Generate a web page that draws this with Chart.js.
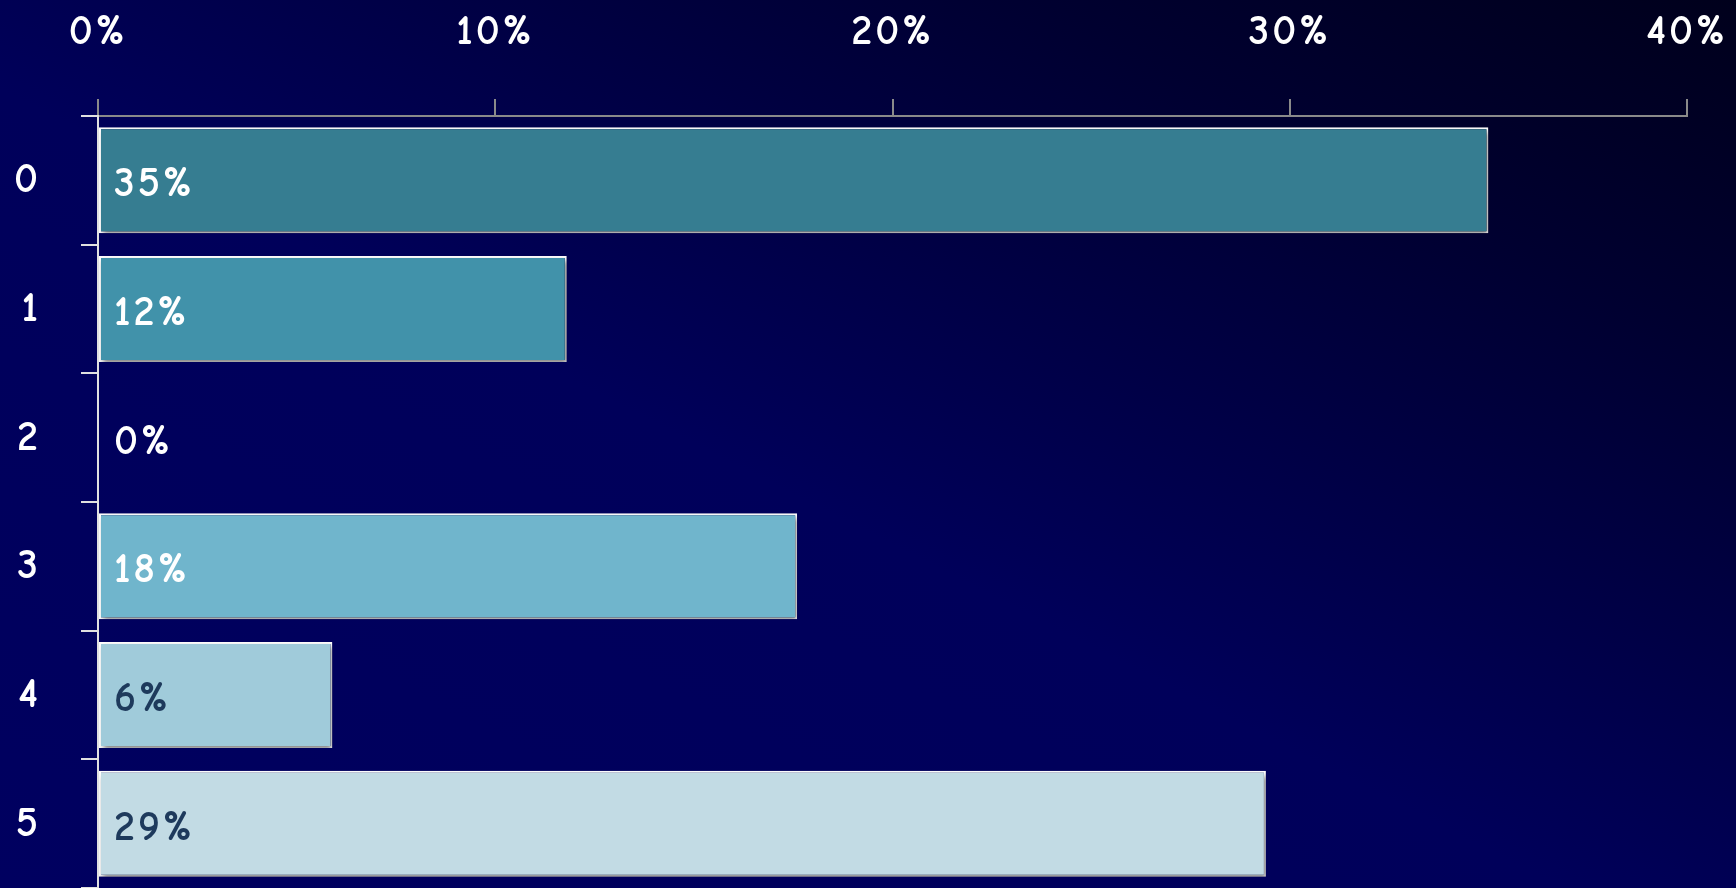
<!DOCTYPE html>
<html>
<head>
<meta charset="utf-8">
<script src="https://cdn.jsdelivr.net/npm/chart.js@4.4.1/dist/chart.umd.min.js"></script>
<style>
    html, body {
        margin: 0;
        padding: 0;
        width: 1736px;
        height: 888px;
        overflow: hidden;
        background: linear-gradient(to top right, #000060 0%, #00005a 45%, #000030 80%, #00001c 100%);
    }
    canvas {
        display: block;
    }
</style>
</head>
<body>
<canvas id="kategoriaChart" width="1736" height="888"></canvas>
<script>
var kategoriak = ['0', '1', '2', '3', '4', '5'];
var ertekek = [35.0, 11.8, 0, 17.6, 5.9, 29.4];
var cimkek = ['35%', '12%', '0%', '18%', '6%', '29%'];
var oszlopSzinek = ['#367d91', '#4192aa', '#367d91', '#70b5cc', '#a0cbda', '#c2dbe4'];
var cimkeSzinek = ['#ffffff', '#ffffff', '#ffffff', '#ffffff', '#1e3a5c', '#1e3a5c'];
var tengelyMax = 40;
var tengelyLepes = 10;

var betu = "'Comic Sans MS', 'Comic Neue', Lato, sans-serif";
var betuMeret = 42;

var kategoriaCtx = document.getElementById('kategoriaChart').getContext('2d');

// kicsit szellosebb betuk, mint a mintan
var betukozPlugin = {
    id: 'betukoz',
    beforeLayout: function (chart) {
        chart.ctx.letterSpacing = '3px';
    },
    beforeDraw: function (chart) {
        chart.ctx.letterSpacing = '3px';
    }
};

// arnyek az oszlopok alatt
var arnyekPlugin = {
    id: 'arnyek',
    beforeDatasetsDraw: function (chart) {
        var ctx = chart.ctx;
        ctx.save();
        ctx.shadowColor = 'rgba(0, 0, 0, 0.5)';
        ctx.shadowBlur = 5;
        ctx.shadowOffsetX = 2;
        ctx.shadowOffsetY = 3;
    },
    afterDatasetsDraw: function (chart) {
        chart.ctx.restore();
    }
};

// szazalek feliratok az oszlopokon
var feliratPlugin = {
    id: 'felirat',
    afterDraw: function (chart) {
        var ctx = chart.ctx;
        var meta = chart.getDatasetMeta(0);
        ctx.save();
        ctx.letterSpacing = '3px';
        ctx.font = 'bold ' + betuMeret + 'px ' + betu;
        ctx.textAlign = 'left';
        ctx.textBaseline = 'middle';
        meta.data.forEach(function (bar, i) {
            ctx.fillStyle = cimkeSzinek[i];
            ctx.fillText(cimkek[i], chart.chartArea.left + 16, bar.y + 4);
        });
        ctx.restore();
    }
};

var kategoriaChart = new Chart(kategoriaCtx, {
    type: 'bar',
    data: {
        labels: kategoriak,
        datasets: [
            {
                label: 'Arány',
                data: ertekek,
                backgroundColor: oszlopSzinek,
                borderColor: '#ffffff',
                borderWidth: 2,
                borderSkipped: false,
                categoryPercentage: 0.9,
                barPercentage: 0.915
            }
        ]
    },
    options: {
        indexAxis: 'y',
        responsive: false,
        animation: false,
        layout: {
            padding: 0
        },
        scales: {
            x: {
                position: 'top',
                min: 0,
                max: tengelyMax,
                ticks: {
                    stepSize: tengelyLepes,
                    color: 'white',
                    padding: 42,
                    font: {
                        family: betu,
                        size: betuMeret,
                        weight: 'bold'
                    },
                    callback: function (value) {
                        return value + '%';
                    }
                },
                grid: {
                    color: '#8a8a8a',
                    lineWidth: 2,
                    drawOnChartArea: false,
                    tickLength: 17
                },
                border: {
                    color: '#8a8a8a',
                    width: 2
                },
                afterFit: function (scale) {
                    scale.height = 116;
                    scale.paddingLeft = 0;
                    scale.paddingRight = 49;
                }
            },
            y: {
                ticks: {
                    color: 'white',
                    padding: 40,
                    font: {
                        family: betu,
                        size: betuMeret,
                        weight: 'bold'
                    }
                },
                grid: {
                    color: '#e0e0e0',
                    lineWidth: 2,
                    offset: true,
                    drawOnChartArea: false,
                    tickLength: 17
                },
                border: {
                    color: '#e0e0e0',
                    width: 2
                },
                afterFit: function (scale) {
                    scale.width = 98;
                    scale.paddingTop = 0;
                    scale.paddingBottom = 0;
                }
            }
        },
        plugins: {
            legend: {
                display: false
            },
            title: {
                display: false
            },
            tooltip: {
                enabled: false
            }
        }
    },
    plugins: [betukozPlugin, arnyekPlugin, feliratPlugin]
});
</script>
</body>
</html>
